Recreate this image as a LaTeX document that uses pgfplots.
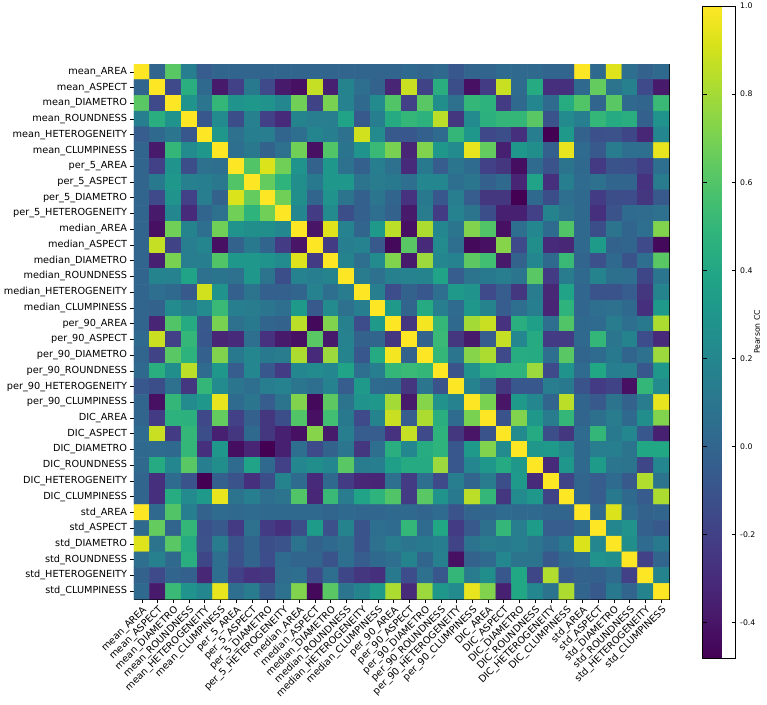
\documentclass[border=0pt]{standalone}
\usepackage{fontspec}
\setmainfont{DejaVu Sans}
\usepackage{pgfplots}
\pgfplotsset{compat=1.18}
\newcommand{\names}{mean\_AREA,mean\_ASPECT,mean\_DIAMETRO,mean\_ROUNDNESS,mean\_HETEROGENEITY,mean\_CLUMPINESS,per\_5\_AREA,per\_5\_ASPECT,per\_5\_DIAMETRO,per\_5\_HETEROGENEITY,median\_AREA,median\_ASPECT,median\_DIAMETRO,median\_ROUNDNESS,median\_HETEROGENEITY,median\_CLUMPINESS,per\_90\_AREA,per\_90\_ASPECT,per\_90\_DIAMETRO,per\_90\_ROUNDNESS,per\_90\_HETEROGENEITY,per\_90\_CLUMPINESS,DIC\_AREA,DIC\_ASPECT,DIC\_DIAMETRO,DIC\_ROUNDNESS,DIC\_HETEROGENEITY,DIC\_CLUMPINESS,std\_AREA,std\_ASPECT,std\_DIAMETRO,std\_ROUNDNESS,std\_HETEROGENEITY,std\_CLUMPINESS}
\begin{document}
\begin{tikzpicture}
\useasboundingbox (-100.5pt,-78.75pt) rectangle (474.75pt,449.25pt);
\begin{axis}[
    at={(0pt,0pt)}, anchor=south west,
    scale only axis, width=401.25pt, height=401.25pt,
    xmin=-0.5, xmax=33.5, ymin=-0.5, ymax=33.5,
    y dir=reverse,
    xtick={0,...,33}, ytick={0,...,33},
    xticklabels/.expanded={\names}, yticklabels/.expanded={\names},
    xtick pos=bottom, ytick pos=left,
    tick align=outside, major tick length=3pt,
    tick style={black, line width=0.5pt},
    axis line style={line width=0.5pt},
    x tick label style={rotate=45, anchor=north east, inner sep=1pt, font=\fontsize{7.3}{8}\selectfont},
    y tick label style={font=\fontsize{7.3}{8}\selectfont, inner sep=2pt},
    colormap/viridis,
    point meta min=-0.48, point meta max=1,
    colorbar,
    colorbar style={
        at={(1.0626,1.1084)}, anchor=north west,
        scale only axis, width=24.75pt, height=489pt,
        ytick={-0.4,-0.2,0,0.2,0.4,0.6,0.8,1.0},
        yticklabel style={font=\fontsize{5.8}{7}\selectfont, /pgf/number format/fixed, /pgf/number format/fixed zerofill, /pgf/number format/precision=1, /pgf/number format/assume math mode=true},
        ylabel={Pearson CC},
        ylabel style={font=\fontsize{5.8}{7}\selectfont, at={(axis description cs:1.65,0.5)}, anchor=center},
        major tick length=3pt,
        tick style={black, line width=0.5pt},
        axis line style={line width=0.5pt},
    },
]
\addplot[matrix plot*, mesh/cols=34, mesh/ordering=x varies, point meta=explicit]
    table[x expr={mod(\coordindex,34)}, y expr={floor((\coordindex+0.5)/34)}, meta=c, row sep=\\] {
c\\
1\\0\\.62\\.15\\-.05\\0\\0\\0\\0\\0\\0\\0\\0\\0\\0\\0\\0\\.02\\0\\.02\\-.08\\0\\0\\.03\\.02\\.02\\0\\0\\1\\.02\\.93\\.05\\-.02\\.02\\
0\\1\\-.15\\.45\\.02\\-.38\\-.2\\.12\\-.15\\-.38\\-.42\\.87\\-.35\\.18\\.05\\-.02\\-.33\\.88\\-.18\\.45\\-.13\\-.42\\-.22\\.88\\.03\\.42\\-.28\\-.28\\.02\\.65\\.08\\.16\\-.15\\-.38\\
.62\\-.15\\1\\.28\\.1\\.5\\.28\\.3\\.28\\.2\\.68\\-.18\\.7\\.17\\.02\\.22\\.6\\-.2\\.62\\.25\\.07\\.5\\.47\\-.22\\.02\\.2\\.03\\.43\\.6\\0\\.62\\.02\\0\\.52\\
.15\\.45\\.28\\1\\-.08\\.22\\-.13\\.16\\-.2\\-.3\\.18\\.14\\.14\\.38\\-.07\\.15\\.42\\.5\\.47\\.85\\-.25\\.22\\.46\\.5\\.5\\.62\\-.1\\.22\\.15\\.5\\.42\\.45\\-.03\\.28\\
-.05\\.02\\.1\\-.08\\1\\.3\\.07\\.15\\.14\\0\\.05\\.19\\.15\\.07\\.9\\.22\\-.07\\-.08\\-.03\\.03\\.5\\.3\\-.16\\-.13\\-.28\\.15\\-.48\\.32\\-.02\\-.12\\-.11\\-.17\\-.32\\.2\\
0\\-.38\\.5\\.22\\.3\\1\\.05\\.11\\-.02\\.07\\.68\\-.42\\.6\\.09\\.28\\.52\\.7\\-.33\\.72\\.3\\.22\\.95\\.65\\-.35\\.3\\.25\\-.03\\.95\\.03\\-.07\\.13\\.05\\.05\\.95\\
0\\-.2\\.28\\-.13\\.07\\.05\\1\\.6\\.92\\.68\\.28\\-.02\\.3\\.07\\-.03\\.15\\.07\\-.3\\.12\\-.05\\.1\\.03\\-.2\\-.25\\-.43\\.03\\-.1\\.08\\.02\\-.23\\-.1\\-.12\\-.2\\.05\\
0\\.12\\.3\\.16\\.15\\.11\\.6\\1\\.65\\.48\\.25\\.12\\.3\\.3\\.08\\.13\\.12\\.05\\.2\\.2\\.05\\.1\\-.03\\.02\\-.33\\.38\\-.28\\.15\\.03\\.07\\0\\0\\-.27\\.13\\
0\\-.15\\.28\\-.2\\.14\\-.02\\.92\\.65\\1\\.68\\.25\\0\\.28\\.08\\-.03\\.1\\0\\-.27\\.12\\-.08\\.14\\-.05\\-.25\\-.25\\-.48\\.02\\-.13\\.05\\.02\\-.22\\-.13\\-.14\\-.25\\-.07\\
0\\-.38\\.2\\-.3\\0\\.07\\.68\\.48\\.68\\1\\.2\\-.22\\.22\\-.13\\-.03\\.05\\-.02\\-.38\\.13\\-.22\\.17\\.08\\-.13\\-.35\\-.35\\-.2\\.18\\.08\\.02\\-.28\\-.1\\.03\\.04\\.07\\
0\\-.42\\.68\\.18\\.05\\.68\\.28\\.25\\.25\\.2\\1\\-.4\\.93\\.17\\0\\.32\\.85\\-.42\\.82\\.2\\.1\\.72\\.6\\-.42\\.05\\.2\\.03\\.6\\.02\\-.13\\.08\\0\\.05\\.72\\
0\\.87\\-.18\\.14\\.19\\-.42\\-.02\\.12\\0\\-.22\\-.4\\1\\-.22\\.15\\.17\\-.07\\-.45\\.62\\-.3\\.22\\.05\\-.45\\-.42\\.73\\-.15\\.25\\-.3\\-.32\\.02\\.33\\-.02\\0\\-.15\\-.45\\
0\\-.35\\.7\\.14\\.15\\.6\\.3\\.3\\.28\\.22\\.93\\-.22\\1\\.18\\.05\\.22\\.72\\-.38\\.78\\.2\\.17\\.63\\.55\\-.38\\-.02\\.2\\.02\\.52\\0\\-.12\\.02\\-.1\\.05\\.62\\
0\\.18\\.17\\.38\\.07\\.09\\.07\\.3\\.08\\-.13\\.17\\.15\\.18\\1\\.13\\.07\\.16\\.17\\.18\\.38\\-.05\\.08\\.12\\.14\\.1\\.62\\-.22\\.13\\.02\\.18\\.06\\.05\\-.17\\.1\\
0\\.05\\.02\\-.07\\.9\\.28\\-.03\\.08\\-.03\\-.03\\0\\.17\\.05\\.13\\1\\.15\\-.14\\-.02\\-.08\\.05\\.32\\.28\\-.15\\-.05\\-.25\\.13\\-.32\\.38\\.01\\-.1\\-.1\\-.05\\-.25\\.18\\
0\\-.02\\.22\\.15\\.22\\.52\\.15\\.13\\.1\\.05\\.32\\-.07\\.22\\.07\\.15\\1\\.32\\0\\.42\\.15\\.03\\.3\\.18\\-.05\\.05\\.15\\-.33\\.48\\.01\\.05\\.07\\.02\\-.28\\.32\\
0\\-.33\\.6\\.42\\-.07\\.7\\.07\\.12\\0\\-.02\\.85\\-.45\\.72\\.16\\-.14\\.32\\1\\-.25\\.98\\.5\\.02\\.8\\.88\\-.27\\.45\\.35\\.05\\.6\\.02\\.03\\.13\\.05\\.12\\.82\\
.02\\.88\\-.2\\.5\\-.08\\-.33\\-.3\\.05\\-.27\\-.38\\-.42\\.62\\-.38\\.17\\-.02\\0\\-.25\\1\\-.02\\.52\\-.25\\-.38\\-.05\\.87\\.2\\.42\\-.22\\-.22\\.02\\.5\\.1\\.18\\-.14\\-.3\\
0\\-.18\\.62\\.47\\-.03\\.72\\.12\\.2\\.12\\.13\\.82\\-.3\\.78\\.18\\-.08\\.42\\.98\\-.02\\1\\.5\\.1\\.73\\.82\\-.15\\.43\\.42\\.05\\.62\\0\\.03\\.12\\0\\.07\\.78\\
.02\\.45\\.25\\.85\\.03\\.3\\-.05\\.2\\-.08\\-.22\\.2\\.22\\.2\\.38\\.05\\.15\\.5\\.52\\.5\\1\\-.1\\.27\\.45\\.48\\.48\\.78\\-.15\\.28\\.03\\.4\\.15\\.16\\-.08\\.3\\
-.08\\-.13\\.07\\-.25\\.5\\.22\\.1\\.05\\.14\\.17\\.1\\.05\\.17\\-.05\\.32\\.03\\.02\\-.25\\.1\\-.1\\1\\.17\\.03\\-.25\\-.08\\-.08\\.14\\.12\\-.1\\-.22\\-.18\\-.42\\.5\\.22\\
0\\-.42\\.5\\.22\\.3\\.95\\.03\\.1\\-.05\\.08\\.72\\-.45\\.63\\.08\\.28\\.3\\.8\\-.38\\.73\\.27\\.17\\1\\.7\\-.4\\.32\\.2\\0\\.85\\0\\-.07\\.08\\-.02\\.13\\.95\\
0\\-.22\\.47\\.46\\-.16\\.65\\-.2\\-.03\\-.25\\-.13\\.6\\-.42\\.55\\.12\\-.15\\.18\\.88\\-.05\\.82\\.45\\.03\\.7\\1\\-.1\\.72\\.3\\.13\\.5\\0\\.06\\.13\\.02\\.25\\.72\\
.03\\.88\\-.22\\.5\\-.13\\-.35\\-.25\\.02\\-.25\\-.35\\-.42\\.73\\-.38\\.14\\-.05\\-.05\\-.27\\.87\\-.15\\.48\\-.25\\-.4\\-.1\\1\\.22\\.42\\-.13\\-.25\\.03\\.5\\.12\\.2\\-.08\\-.35\\
.02\\.03\\.02\\.5\\-.28\\.3\\-.43\\-.33\\-.48\\-.35\\.05\\-.15\\-.02\\.1\\-.25\\.05\\.45\\.2\\.43\\.48\\-.08\\.32\\.72\\.22\\1\\.3\\.32\\.22\\.02\\.14\\.15\\.08\\.4\\.4\\
.02\\.42\\.2\\.62\\.15\\.25\\.03\\.38\\.02\\-.2\\.2\\.25\\.2\\.62\\.13\\.15\\.35\\.42\\.42\\.78\\-.08\\.2\\.3\\.42\\.3\\1\\-.3\\.3\\.02\\.33\\.1\\.08\\-.17\\.2\\
0\\-.28\\.03\\-.1\\-.48\\-.03\\-.1\\-.28\\-.13\\.18\\.03\\-.3\\.02\\-.22\\-.32\\-.33\\.05\\-.22\\.05\\-.15\\.14\\0\\.13\\-.13\\.32\\-.3\\1\\-.18\\0\\-.05\\.03\\-.07\\.83\\.08\\
0\\-.28\\.43\\.22\\.32\\.95\\.08\\.15\\.05\\.08\\.6\\-.32\\.52\\.13\\.38\\.48\\.6\\-.22\\.62\\.28\\.12\\.85\\.5\\-.25\\.22\\.3\\-.18\\1\\0\\-.05\\.12\\.02\\-.06\\.82\\
1\\.02\\.6\\.15\\-.02\\.03\\.02\\.03\\.02\\.02\\.02\\.02\\0\\.02\\.01\\.01\\.02\\.02\\0\\.03\\-.1\\0\\0\\.03\\.02\\.02\\0\\0\\1\\.02\\.92\\.05\\-.02\\0\\
.02\\.65\\0\\.5\\-.12\\-.07\\-.23\\.07\\-.22\\-.28\\-.13\\.33\\-.12\\.18\\-.1\\.05\\.03\\.5\\.03\\.4\\-.22\\-.07\\.06\\.5\\.14\\.33\\-.05\\-.05\\.02\\1\\.2\\.27\\-.03\\-.07\\
.93\\.08\\.62\\.42\\-.11\\.13\\-.1\\0\\-.13\\-.1\\.08\\-.02\\.02\\.06\\-.1\\.07\\.13\\.1\\.12\\.15\\-.18\\.08\\.13\\.12\\.15\\.1\\.03\\.12\\.92\\.2\\1\\.25\\.03\\.12\\
.05\\.16\\.02\\.45\\-.17\\.05\\-.12\\0\\-.14\\.03\\0\\0\\-.1\\.05\\-.05\\.02\\.05\\.18\\0\\.16\\-.42\\-.02\\.02\\.2\\.08\\.08\\-.07\\.02\\.05\\.27\\.25\\1\\-.2\\0\\
-.02\\-.15\\0\\-.03\\-.32\\.05\\-.2\\-.27\\-.25\\.04\\.05\\-.15\\.05\\-.17\\-.25\\-.28\\.12\\-.14\\.07\\-.08\\.5\\.13\\.25\\-.08\\.4\\-.17\\.83\\-.06\\-.02\\-.03\\.03\\-.2\\1\\.18\\
.02\\-.38\\.52\\.28\\.2\\.95\\.05\\.13\\-.07\\.07\\.72\\-.45\\.62\\.1\\.18\\.32\\.82\\-.3\\.78\\.3\\.22\\.95\\.72\\-.35\\.4\\.2\\.08\\.82\\0\\-.07\\.12\\0\\.18\\1\\
};
\end{axis}
\end{tikzpicture}
\end{document}
